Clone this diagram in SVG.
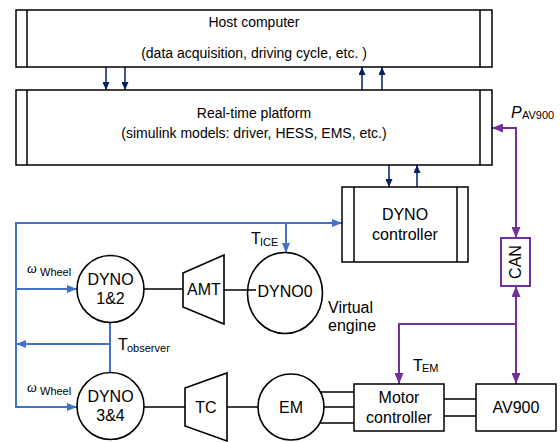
<svg xmlns="http://www.w3.org/2000/svg" width="560" height="442" viewBox="0 0 560 442">
  <style>
    text { font-family: "Liberation Sans", Arial, sans-serif; fill: #000; }
    .t14 { font-size: 14px; }
    .t16 { font-size: 16px; }
    .sub { font-size: 11px; }
    .box { fill: #fff; stroke: #000; stroke-width: 1.5; }
    .bar { stroke: #000; stroke-width: 1.5; fill: none; }
    .shape { fill: #fff; stroke: #000; stroke-width: 1.6; }
    .link { stroke: #000; stroke-width: 1.5; fill: none; }
    .navy { stroke: #002060; stroke-width: 1.5; fill: none; }
    .blue { stroke: #4472C4; stroke-width: 2; fill: none; }
    .purple { stroke: #7030A0; stroke-width: 2; fill: none; }
    .omega { font-family: "Liberation Serif", serif; font-size: 14px; font-style: italic; }
  </style>
  <defs>
    <marker id="ahNavy" viewBox="0 0 8 7" refX="8" refY="3.5" markerWidth="8" markerHeight="7" orient="auto" markerUnits="userSpaceOnUse">
      <path d="M0,0L8,3.5L0,7z" fill="#002060"/>
    </marker>
    <marker id="ahBlue" viewBox="0 0 10 8" refX="10" refY="4" markerWidth="10" markerHeight="8" orient="auto" markerUnits="userSpaceOnUse">
      <path d="M0,0L10,4L0,8z" fill="#4472C4"/>
    </marker>
    <marker id="ahPurple" viewBox="0 0 11 9" refX="11" refY="4.5" markerWidth="11" markerHeight="9" orient="auto" markerUnits="userSpaceOnUse">
      <path d="M0,0L11,4.5L0,9z" fill="#7030A0"/>
    </marker>
  </defs>

  <!-- connectors -->
  <g id="connectors">
    <!-- host <-> real-time platform -->
    <line class="navy" x1="106" y1="67" x2="106" y2="90" marker-end="url(#ahNavy)"/>
    <line class="navy" x1="125" y1="67" x2="125" y2="90" marker-end="url(#ahNavy)"/>
    <line class="navy" x1="362" y1="90" x2="362" y2="67" marker-end="url(#ahNavy)"/>
    <line class="navy" x1="382" y1="90" x2="382" y2="67" marker-end="url(#ahNavy)"/>
    <!-- real-time platform <-> dyno controller -->
    <line class="navy" x1="389" y1="165" x2="389" y2="187" marker-end="url(#ahNavy)"/>
    <line class="navy" x1="417" y1="187" x2="417" y2="165" marker-end="url(#ahNavy)"/>

    <!-- CAN bus -->
    <polyline class="purple" points="516,128 492,128" marker-end="url(#ahPurple)"/>
    <polyline class="purple" points="516,127 516,238" marker-end="url(#ahPurple)"/>
    <polyline class="purple" points="516,325 516,286" marker-end="url(#ahPurple)"/>
    <polyline class="purple" points="516,323 516,384" marker-end="url(#ahPurple)"/>
    <polyline class="purple" points="517,324 399,324 399,384" marker-end="url(#ahPurple)"/>

    <!-- dyno feedback loop -->
    <polyline class="blue" points="16,407 16,223 342,223" marker-end="url(#ahBlue)"/>
    <line class="blue" x1="286" y1="223" x2="286" y2="253" marker-end="url(#ahBlue)"/>
    <line class="blue" x1="16" y1="289" x2="77" y2="289" marker-end="url(#ahBlue)"/>
    <line class="blue" x1="15" y1="407" x2="77" y2="407" marker-end="url(#ahBlue)"/>
    <line class="blue" x1="110" y1="322" x2="110" y2="372"/>
    <line class="blue" x1="110" y1="344" x2="16" y2="344" marker-end="url(#ahBlue)"/>

    <!-- mechanical / power links -->
    <line class="link" x1="144" y1="289" x2="183" y2="289"/>
    <line class="link" x1="224" y1="290" x2="256" y2="290"/>
    <line class="link" x1="144" y1="407" x2="185" y2="407"/>
    <line class="link" x1="227" y1="407" x2="258" y2="407"/>
    <line class="link" x1="320" y1="392" x2="354" y2="392"/>
    <line class="link" x1="324" y1="407" x2="354" y2="407"/>
    <line class="link" x1="320" y1="423" x2="354" y2="423"/>
    <line class="link" x1="444" y1="399" x2="476" y2="399"/>
    <line class="link" x1="444" y1="416" x2="476" y2="416"/>
  </g>

  <g id="host">
    <rect class="box" x="16" y="10" width="476" height="57"/>
    <line class="bar" x1="27" y1="10" x2="27" y2="67"/>
    <line class="bar" x1="480" y1="10" x2="480" y2="67"/>
    <text class="t14" x="254" y="27" text-anchor="middle">Host computer</text>
    <text class="t14" x="254" y="58" text-anchor="middle">(data acquisition, driving cycle, etc. )</text>
  </g>

  <g id="realtime">
    <rect class="box" x="16" y="90" width="476" height="75"/>
    <line class="bar" x1="27" y1="90" x2="27" y2="165"/>
    <line class="bar" x1="480" y1="90" x2="480" y2="165"/>
    <text class="t14" x="254" y="118" text-anchor="middle">Real-time platform</text>
    <text class="t14" x="254" y="138" text-anchor="middle">(simulink models: driver, HESS, EMS, etc.)</text>
  </g>

  <g id="pav900-label">
    <text x="511" y="118" style="font-size:16px;font-style:italic">P</text>
    <text class="sub" x="522" y="119">AV900</text>
  </g>

  <g id="dyno-controller">
    <rect class="box" x="342" y="187" width="126" height="75"/>
    <line class="bar" x1="354" y1="187" x2="354" y2="262"/>
    <line class="bar" x1="457" y1="187" x2="457" y2="262"/>
    <text class="t16" x="405" y="220" text-anchor="middle">DYNO</text>
    <text class="t16" x="405" y="240" text-anchor="middle">controller</text>
  </g>

  <g id="can">
    <rect x="501" y="238" width="29" height="48" fill="#fff" stroke="#7030A0" stroke-width="2"/>
    <text class="t16" x="0" y="0" text-anchor="middle" transform="translate(521,262) rotate(-90)">CAN</text>
  </g>

  <g id="dyno12">
    <circle class="shape" cx="110.5" cy="289" r="33.5"/>
    <text class="t16" x="110.5" y="285" text-anchor="middle">DYNO</text>
    <text class="t16" x="110.5" y="304" text-anchor="middle">1&amp;2</text>
  </g>

  <g id="amt">
    <polygon class="shape" points="183,273 224,255 224,324 183,307"/>
    <text class="t16" x="204" y="295" text-anchor="middle">AMT</text>
  </g>

  <g id="dyno0">
    <ellipse class="shape" cx="285" cy="293" rx="37.5" ry="40.5"/>
    <line class="link" x1="248" y1="290" x2="256" y2="290"/>
    <text class="t16" x="285" y="297" text-anchor="middle">DYNO0</text>
  </g>

  <g id="virtual-engine-label">
    <text class="t16" x="328" y="313">Virtual</text>
    <text class="t16" x="328" y="331">engine</text>
  </g>

  <g id="tice-label">
    <text class="t16" x="251" y="244">T</text>
    <text class="sub" x="260" y="246">ICE</text>
  </g>

  <g id="wheel-labels">
    <text class="omega" x="27" y="273">ω</text>
    <text class="sub" x="40" y="276">Wheel</text>
    <text class="omega" x="27" y="392">ω</text>
    <text class="sub" x="40" y="395">Wheel</text>
  </g>

  <g id="tobserver-label">
    <text class="t16" x="118" y="350">T</text>
    <text class="sub" x="127" y="352">observer</text>
  </g>

  <g id="dyno34">
    <circle class="shape" cx="110.5" cy="406" r="33.5"/>
    <text class="t16" x="110.5" y="402" text-anchor="middle">DYNO</text>
    <text class="t16" x="110.5" y="421" text-anchor="middle">3&amp;4</text>
  </g>

  <g id="tc">
    <polygon class="shape" points="185,388 227,373 227,441 185,426"/>
    <text class="t16" x="206" y="413" text-anchor="middle">TC</text>
  </g>

  <g id="em">
    <circle class="shape" cx="291" cy="407" r="33"/>
    <text class="t16" x="291" y="413" text-anchor="middle">EM</text>
  </g>

  <g id="tem-label">
    <text class="t16" x="413" y="371">T</text>
    <text class="sub" x="422" y="372">EM</text>
  </g>

  <g id="motor-controller">
    <rect class="box" x="354" y="384" width="90" height="47"/>
    <text class="t16" x="399" y="403" text-anchor="middle">Motor</text>
    <text class="t16" x="399" y="423" text-anchor="middle">controller</text>
  </g>

  <g id="av900">
    <rect class="box" x="476" y="384" width="80" height="47"/>
    <text class="t16" x="516" y="413" text-anchor="middle">AV900</text>
  </g>
</svg>
